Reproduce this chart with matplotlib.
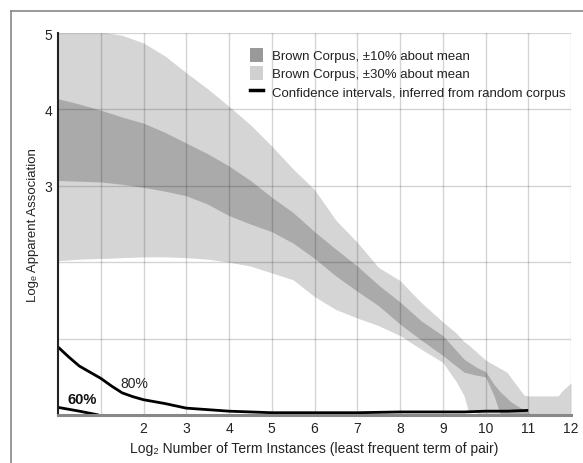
import matplotlib
matplotlib.use("Agg")
import matplotlib.pyplot as plt
from matplotlib.patches import Patch
from matplotlib.lines import Line2D

plt.rcParams['font.family'] = ['Liberation Sans', 'DejaVu Sans']

# ---- data ----
light_x = [0, 0.5, 1, 1.14, 1.5, 2, 2.5, 3, 3.5, 4, 4.5, 5, 5.5, 6, 6.5, 7, 7.5, 8, 8.5, 9,
           9.3, 9.5, 9.6, 10, 10.5, 10.9, 11, 11.5, 11.7, 11.8, 12]
light_hi = [5, 5, 5, 5, 4.97, 4.87, 4.7, 4.48, 4.27, 4.04, 3.8, 3.52, 3.22, 2.95, 2.55, 2.26, 1.93,
            1.76, 1.47, 1.22, 1.08, 0.96, 0.92, 0.72, 0.56, 0.26, 0.25, 0.25, 0.25, 0.32, 0.42]
light_lo = [2.02, 2.04, 2.05, 2.05, 2.06, 2.07, 2.07, 2.06, 2.04, 2.0, 1.95, 1.86, 1.77, 1.55, 1.38,
            1.27, 1.17, 1.04, 0.86, 0.69, 0.45, 0.25, 0.05, 0, 0, 0, 0, 0, 0, 0, 0]

dark_x = [0, 0.5, 1, 1.5, 2, 2.5, 3, 3.5, 4, 4.5, 5, 5.5, 6, 6.5, 7, 7.5, 8, 8.5, 9, 9.5,
          9.8, 10, 10.2, 10.35, 10.6, 11, 11.1]
dark_hi = [4.14, 4.07, 3.99, 3.9, 3.82, 3.7, 3.56, 3.42, 3.26, 3.07, 2.85, 2.65, 2.4, 2.17, 1.95,
           1.7, 1.48, 1.23, 1.04, 0.73, 0.62, 0.57, 0.4, 0.3, 0.17, 0.03, 0]
dark_lo = [3.07, 3.06, 3.05, 3.02, 2.98, 2.93, 2.87, 2.76, 2.61, 2.5, 2.4, 2.25, 2.05, 1.82, 1.62,
           1.43, 1.19, 0.98, 0.78, 0.56, 0.52, 0.5, 0.25, 0, 0, 0, 0]

ci80_x = [0, 0.25, 0.5, 0.75, 1, 1.25, 1.5, 1.75, 2, 2.5, 3, 3.5, 4, 4.5, 5, 6, 7, 8, 9, 9.5, 10, 10.5, 11]
ci80_y = [0.89, 0.76, 0.64, 0.56, 0.48, 0.38, 0.29, 0.24, 0.2, 0.15, 0.09, 0.07, 0.05, 0.04, 0.03,
          0.03, 0.03, 0.04, 0.04, 0.04, 0.05, 0.05, 0.06]
ci60_x = [0, 0.5, 0.95]
ci60_y = [0.10, 0.05, 0.0]

x_ticks = [2, 3, 4, 5, 6, 7, 8, 9, 10, 11, 12]
y_ticks = [3, 4, 5]
legend_labels = ["Brown Corpus, \u00b110% about mean",
                 "Brown Corpus, \u00b130% about mean",
                 "Confidence intervals, inferred from random corpus"]

# ---- figure ----
W, H = 583, 464
fig = plt.figure(figsize=(W / 100, H / 100), dpi=100)
ax = fig.add_axes([58 / W, 1 - 416 / H, (571 - 58) / W, (416 - 34) / H])

light_c = '#d5d5d5'
dark_c = '#aaaaaa'
ax.fill_between(light_x, light_lo, light_hi, color=light_c, lw=0, zorder=1)
ax.fill_between(dark_x, dark_lo, dark_hi, color=dark_c, lw=0, zorder=2)

# gridlines over fills
for gx in range(1, 13):
    ax.axvline(gx, color='#000000', alpha=0.17, lw=1, zorder=3)
for gy in range(1, 6):
    ax.axhline(gy, color='#000000', alpha=0.17, lw=1, zorder=3)

ax.plot(ci80_x, ci80_y, color='black', lw=2, zorder=5, solid_capstyle='butt')
ax.plot(ci60_x, ci60_y, color='black', lw=2, zorder=5, solid_capstyle='butt')

ax.text(1.45, 0.42, "80%", fontsize=10, color='#222222', ha='left', va='center', zorder=6)
ax.text(0.22, 0.21, "60%", fontsize=10.5, fontweight='bold', color='#111111', ha='left',
        va='center', zorder=6)

ax.set_xlim(0, 12)
ax.set_ylim(0, 5)
ax.set_xticks(x_ticks)
ax.set_xticklabels([str(t) for t in x_ticks])
ax.set_yticks(y_ticks)
ax.set_yticklabels([str(t) for t in y_ticks])
ax.tick_params(axis='both', length=0, labelsize=10, colors='#222222')
ax.tick_params(axis='x', pad=4)
ax.tick_params(axis='y', pad=4)

for s in ['top', 'right']:
    ax.spines[s].set_visible(False)
ax.spines['left'].set_color('#222222')
ax.spines['left'].set_linewidth(1.5)
ax.spines['bottom'].set_color('#888888')
ax.spines['bottom'].set_linewidth(2.2)
ax.spines['left'].set_zorder(6)
ax.spines['bottom'].set_zorder(6)

ax.set_xlabel("Log\u2082 Number of Term Instances (least frequent term of pair)",
              fontsize=10, color='#222222', labelpad=5)
ax.set_ylabel("Log\u2091 Apparent Association", fontsize=9.5, color='#222222', labelpad=4)

handles = [Patch(facecolor='#999999', edgecolor='none'),
           Patch(facecolor='#d0d0d0', edgecolor='none'),
           Line2D([0], [0], color='black', lw=2.5)]
leg = ax.legend(handles, legend_labels, loc='upper left',
                bbox_to_anchor=((250 - 58) / (571 - 58), 1 - (49 - 34) / (416 - 34)),
                frameon=False, fontsize=9.5, handlelength=1.0, handleheight=1.2,
                handletextpad=0.7, labelspacing=0.3, borderaxespad=0, borderpad=0)
for t in leg.get_texts():
    t.set_color('#222222')

# outer frame
fig.add_artist(Line2D([11 / W, 11 / W], [0, 1 - 12 / H], color='#888888', lw=1.2,
                      transform=fig.transFigure))
fig.add_artist(Line2D([11 / W, 1], [1 - 12 / H, 1 - 12 / H], color='#888888', lw=1.2,
                      transform=fig.transFigure))

fig.savefig("out.png", dpi=100)
